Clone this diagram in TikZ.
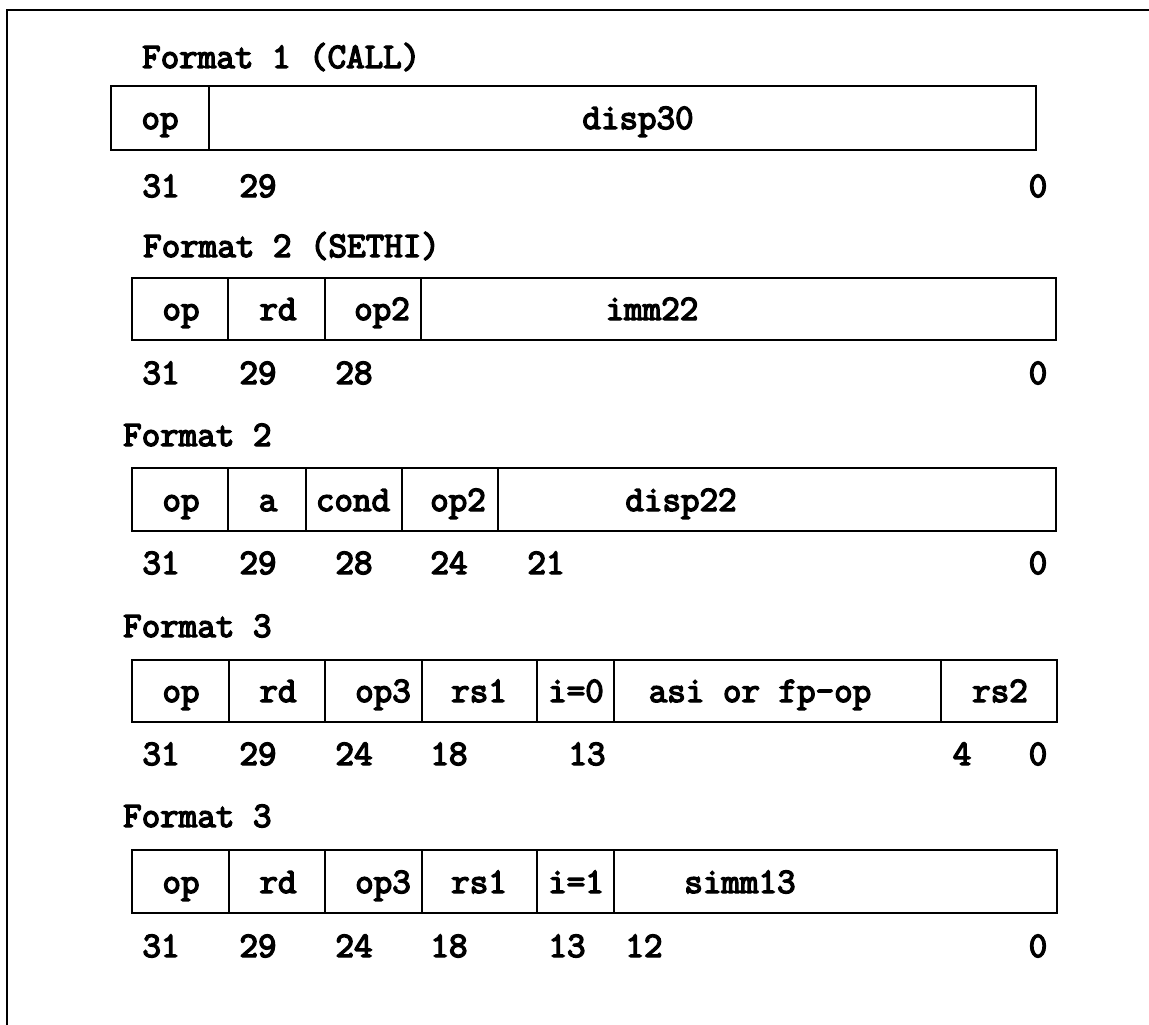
\documentclass[tikz,border=0pt]{standalone}
\usepackage{fontspec}
\newfontfamily\cour{Latin Modern Mono}[FakeBold=4]
\begin{document}
\begin{tikzpicture}[x=1pt,y=-1pt,
  fld/.style={draw, line width=1.8pt, inner sep=0pt, outer sep=0pt},
  txt/.style={font=\cour\fontsize{36}{40}\selectfont, inner sep=0pt, anchor=base},
  ttl/.style={txt, anchor=base west},
  frame/.style={line width=2.8pt}]
\useasboundingbox (0,0) rectangle (1149,1025);
% field box macro: name, x1, x2, y1, y2
\newcommand\fldbox[5]{%
  \node[fld, minimum width={(#3)-(#2)}, minimum height={(#5)-(#4)}] (#1) at ({((#2)+(#3))/2},{((#4)+(#5))/2}) {};}
% outer frame
\coordinate (ftl) at (7,10);
\coordinate (ftr) at (1149,10);
\coordinate (fbl) at (7,1025);
\draw[frame] (ftr) -- (ftl) -- (fbl);

% ---------- Format 1 (CALL)
\node[ttl] (t1) at (142,68) {Format 1 (CALL)};
\fldbox{a1}{111}{209}{86}{150}
\fldbox{a2}{209}{1036}{86}{150}
\node[txt] (a1t) at (160,129) {op};
\node[txt] (a2t) at (638,129) {disp30};
\node[txt] (a31) at (161,197) {31};
\node[txt] (a29) at (258,197) {29};
\node[txt] (a0) at (1038,197) {0};

% ---------- Format 2 (SETHI)
\node[ttl] (t2) at (143,257) {Format 2 (SETHI)};
\fldbox{b1}{132}{228}{278}{340}
\fldbox{b2}{228}{325}{278}{340}
\fldbox{b3}{325}{421}{278}{340}
\fldbox{b4}{421}{1056}{278}{340}
\node[txt] (b1t) at (181,320) {op};
\node[txt] (b2t) at (278,320) {rd};
\node[txt] (b3t) at (382,320) {op2};
\node[txt] (b4t) at (652,320) {imm22};
\node[txt] (b31) at (161,384) {31};
\node[txt] (b29) at (258,384) {29};
\node[txt] (b28) at (354,384) {28};
\node[txt] (b0) at (1038,384) {0};

% ---------- Format 2
\node[ttl] (t3) at (123,446) {Format 2};
\fldbox{c1}{132}{228}{468}{531}
\fldbox{c2}{228}{306}{468}{531}
\fldbox{c3}{306}{402}{468}{531}
\fldbox{c4}{402}{498}{468}{531}
\fldbox{c5}{498}{1056}{468}{531}
\node[txt] (c1t) at (181,511) {op};
\node[txt] (c2t) at (268,511) {a};
\node[txt] (c3t) at (353,511) {cond};
\node[txt] (c4t) at (458,511) {op2};
\node[txt] (c5t) at (681,511) {disp22};
\node[txt] (c31) at (161,574) {31};
\node[txt] (c29) at (258,574) {29};
\node[txt] (c28) at (354,574) {28};
\node[txt] (c24) at (449,574) {24};
\node[txt] (c21) at (546,574) {21};
\node[txt] (c0) at (1038,574) {0};

% ---------- Format 3 (i=0)
\node[ttl] (t4) at (123,637) {Format 3};
\fldbox{d1}{132}{229}{660}{722}
\fldbox{d2}{229}{325}{660}{722}
\fldbox{d3}{325}{422}{660}{722}
\fldbox{d4}{422}{537}{660}{722}
\fldbox{d5}{537}{614}{660}{722}
\fldbox{d6}{614}{941}{660}{722}
\fldbox{d7}{941}{1057}{660}{722}
\node[txt] (d1t) at (181,702) {op};
\node[txt] (d2t) at (278,702) {rd};
\node[txt] (d3t) at (383,702) {op3};
\node[txt] (d4t) at (479,702) {rs1};
\node[txt] (d5t) at (576,702) {i=0};
\node[txt] (d6t) at (760,702) {asi or fp-op};
\node[txt] (d7t) at (1000,702) {rs2};
\node[txt] (d31) at (161,765) {31};
\node[txt] (d29) at (258,765) {29};
\node[txt] (d24) at (354,765) {24};
\node[txt] (d18) at (449,765) {18};
\node[txt] (d13) at (587,765) {13};
\node[txt] (d4) at (962,765) {4};
\node[txt] (d0) at (1038,765) {0};

% ---------- Format 3 (i=1)
\node[ttl] (t5) at (123,827) {Format 3};
\fldbox{e1}{132}{229}{850}{913}
\fldbox{e2}{229}{325}{850}{913}
\fldbox{e3}{325}{422}{850}{913}
\fldbox{e4}{422}{537}{850}{913}
\fldbox{e5}{537}{614}{850}{913}
\fldbox{e6}{614}{1057}{850}{913}
\node[txt] (e1t) at (181,893) {op};
\node[txt] (e2t) at (278,893) {rd};
\node[txt] (e3t) at (383,893) {op3};
\node[txt] (e4t) at (479,893) {rs1};
\node[txt] (e5t) at (576,893) {i=1};
\node[txt] (e6t) at (740,893) {simm13};
\node[txt] (e31) at (161,957) {31};
\node[txt] (e29) at (258,957) {29};
\node[txt] (e24) at (354,957) {24};
\node[txt] (e18) at (449,957) {18};
\node[txt] (e13) at (567,957) {13};
\node[txt] (e12) at (644,957) {12};
\node[txt] (e0) at (1038,957) {0};
\end{tikzpicture}
\end{document}
